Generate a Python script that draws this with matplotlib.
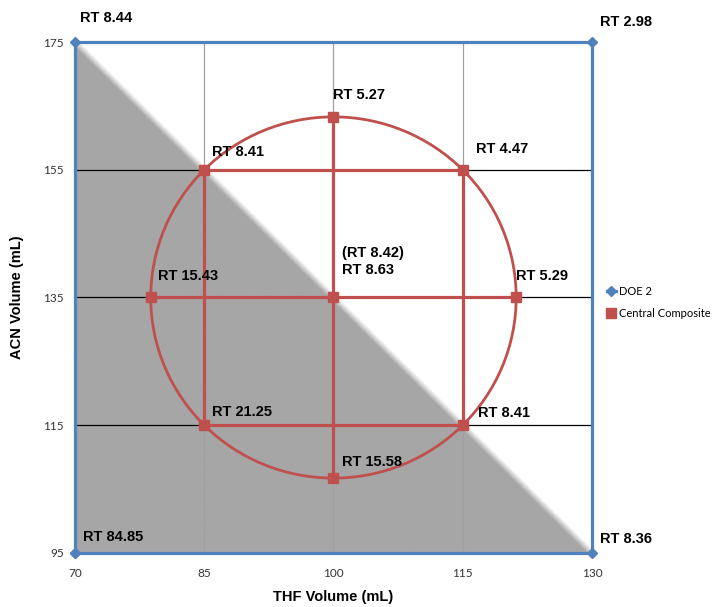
import numpy as np
import matplotlib.pyplot as plt
from matplotlib.patches import Ellipse

# DOE 2 (full factorial corners, drawn as a closed box)
doe_x = [70, 70, 130, 130, 70]
doe_y = [95, 175, 175, 95, 95]
doe_labels = ['RT 84.85', 'RT 8.44', 'RT 2.98', 'RT 8.36']

# Central composite design
cc_center = (100, 135)
cc_step = (15, 20)
cc_alpha = 1.414
cc_box_x = [85, 115, 115, 85, 85]
cc_box_y = [155, 155, 115, 115, 155]
cc_star_x = [100, 100, 100 - 15 * cc_alpha, 100 + 15 * cc_alpha]
cc_star_y = [135 + 20 * cc_alpha, 135 - 20 * cc_alpha, 135, 135]
cc_pts_x = [85, 115, 85, 115, 100, 100, 100 - 15 * cc_alpha, 100 + 15 * cc_alpha, 100]
cc_pts_y = [155, 155, 115, 115, 135 + 20 * cc_alpha, 135 - 20 * cc_alpha, 135, 135, 135]
cc_labels = ['RT 8.41', 'RT 4.47', 'RT 21.25', 'RT 8.41', 'RT 5.27', 'RT 15.58',
             'RT 15.43', 'RT 5.29', '(RT 8.42)\nRT 8.63']

# label offsets in pixels (right, up)
doe_off = [(8, 16), (5, 24), (8, 20), (8, 14)]
cc_off = [(8, 18), (13, 21), (8, 13), (15, 12), (0, 22), (9, 16), (7, 21), (0, 21), (9, 20)]

xticks = [70, 85, 100, 115, 130]
yticks = [95, 115, 135, 155, 175]

blue = '#4F81BD'
red = '#C0504D'

fig = plt.figure(figsize=(7.26, 6.07), dpi=100)
ax = fig.add_axes([0.1033, 0.089, 0.712, 0.8418])
ax.set_xlim(70, 130)
ax.set_ylim(95, 175)

# soft-edged gray triangle below the falling diagonal
nx, ny = 600, 600
gx = np.linspace(0, 517, nx)
gy = np.linspace(0, 511, ny)
X, Y = np.meshgrid(gx, gy)
d = (511 * 517 - X * 511 - Y * 517) / np.hypot(511, 517)
a = np.clip(d / 7.0 + 0.5, 0, 1)
img = np.ones((ny, nx, 4))
img[..., :3] = np.array([166, 166, 166]) / 255
img[..., 3] = a
ax.imshow(img, extent=[70, 130, 95, 175], origin='lower', aspect='auto', zorder=0,
          interpolation='bilinear')

for x in [85, 100, 115]:
    ax.axvline(x, color='#A0A0A0', lw=0.9, zorder=1)
for y in [115, 135, 155]:
    ax.axhline(y, color='black', lw=0.9, zorder=1)

for s in ax.spines.values():
    s.set_visible(False)
ax.set_xticks(xticks)
ax.set_yticks(yticks)
ax.tick_params(length=0, labelsize=8.5, colors='#333333')
ax.tick_params(axis='x', pad=11)
ax.tick_params(axis='y', pad=8)
for lab in ax.get_xticklabels() + ax.get_yticklabels():
    lab.set_family('Lato')

ax.plot(doe_x, doe_y, color=blue, lw=2.3, marker='D', ms=5, clip_on=False, zorder=3,
        label='DOE 2')

ax.add_patch(Ellipse(cc_center, 2 * cc_step[0] * cc_alpha, 2 * cc_step[1] * cc_alpha,
                     fill=False, ec=red, lw=2.0, zorder=2))
ax.plot(cc_box_x, cc_box_y, color=red, lw=2.3, zorder=3)
ax.plot(cc_star_x[:2], cc_star_y[:2], color=red, lw=2.3, zorder=3)
ax.plot(cc_star_x[2:], cc_star_y[2:], color=red, lw=2.3, zorder=3)
ax.plot(cc_pts_x, cc_pts_y, ls='none', marker='s', ms=6.5, color=red, zorder=4,
        label='Central Composite', clip_on=False)

for x, y, t, o in zip(doe_x[:4], doe_y[:4], doe_labels, doe_off):
    ax.annotate(t, (x, y), xytext=o, textcoords='offset pixels', ha='left', va='center',
                fontsize=10.5, fontweight='bold', family='Liberation Sans', zorder=5,
                annotation_clip=False)
for x, y, t, o in zip(cc_pts_x, cc_pts_y, cc_labels, cc_off):
    ax.annotate(t, (x, y), xytext=o, textcoords='offset pixels', ha='left',
                va='bottom' if '\n' in t else 'center', fontsize=10.5,
                fontweight='bold', family='Liberation Sans', zorder=5,
                linespacing=1.35, annotation_clip=False)

ax.set_xlabel('THF Volume (mL)', fontsize=10.5, fontweight='bold',
              family='Liberation Sans', labelpad=8)
ax.set_ylabel('ACN Volume (mL)', fontsize=10.5, fontweight='bold',
              family='Liberation Sans', labelpad=14)

ax.legend(loc='center left', bbox_to_anchor=(1.02, 0.49), frameon=False,
          prop={'family': 'Lato', 'size': 8}, handlelength=0.8, handletextpad=0.3,
          labelspacing=1.0, borderaxespad=0)

fig.savefig('out.png', dpi=100)
